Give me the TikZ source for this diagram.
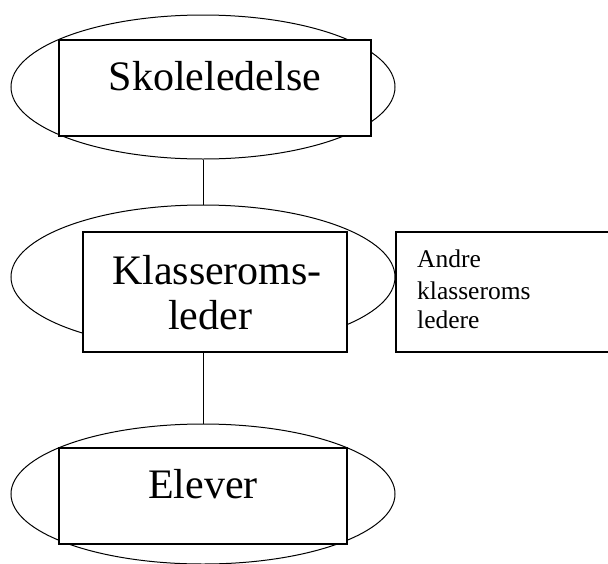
\documentclass[tikz,border=0pt]{standalone}
\usepackage{fontspec}
\setmainfont{Liberation Serif}
\usetikzlibrary{shapes.geometric}
\begin{document}
\begin{tikzpicture}[x=1pt,y=-1pt,
  oval/.style={draw, ellipse, line width=1pt, inner sep=0pt, minimum width=384pt, minimum height=144pt},
  box/.style={draw, fill=white, rectangle, line width=1.2pt, inner sep=0pt},
  bigtext/.style={font=\fontsize{42}{47}\selectfont, anchor=base, inner sep=0pt},
  smalltext/.style={font=\fontsize{25.5}{30}\selectfont, anchor=base west, inner sep=0pt},
  link/.style={line width=1pt}]
\useasboundingbox (0,0) rectangle (608,563);
% ellipses
\node[oval] (e1) at (203,87) {};
\node[oval] (e2) at (203,277) {};
\node[oval, minimum height=140pt] (e3) at (203,494) {};
% rectangles
\node[box, minimum width=312pt, minimum height=96pt] (r1) at (215,88) {};
\node[box, minimum width=264pt, minimum height=120pt] (r2) at (215,292) {};
\node[box, minimum width=288pt, minimum height=96pt] (r3) at (203,496) {};
\node[box, minimum width=216pt, minimum height=120pt] (r4) at (504,292) {};
% connectors
\draw[link] (e1.south) -- (e2.north);
\draw[link] (r2.south -| e2.center) -- (e3.north);
% texts
\node[bigtext] (t1) at (215,90) {Skoleledelse};
\node[bigtext] (t2) at (217,284) {Klasseroms-};
\node[bigtext] (t3) at (210,329) {leder};
\node[bigtext] (t4) at (203,498) {Elever};
\node[smalltext] (s1) at (417,267) {Andre};
\node[smalltext] (s2) at (417,299) {klasseroms};
\node[smalltext] (s3) at (417,328) {ledere};
\end{tikzpicture}
\end{document}
